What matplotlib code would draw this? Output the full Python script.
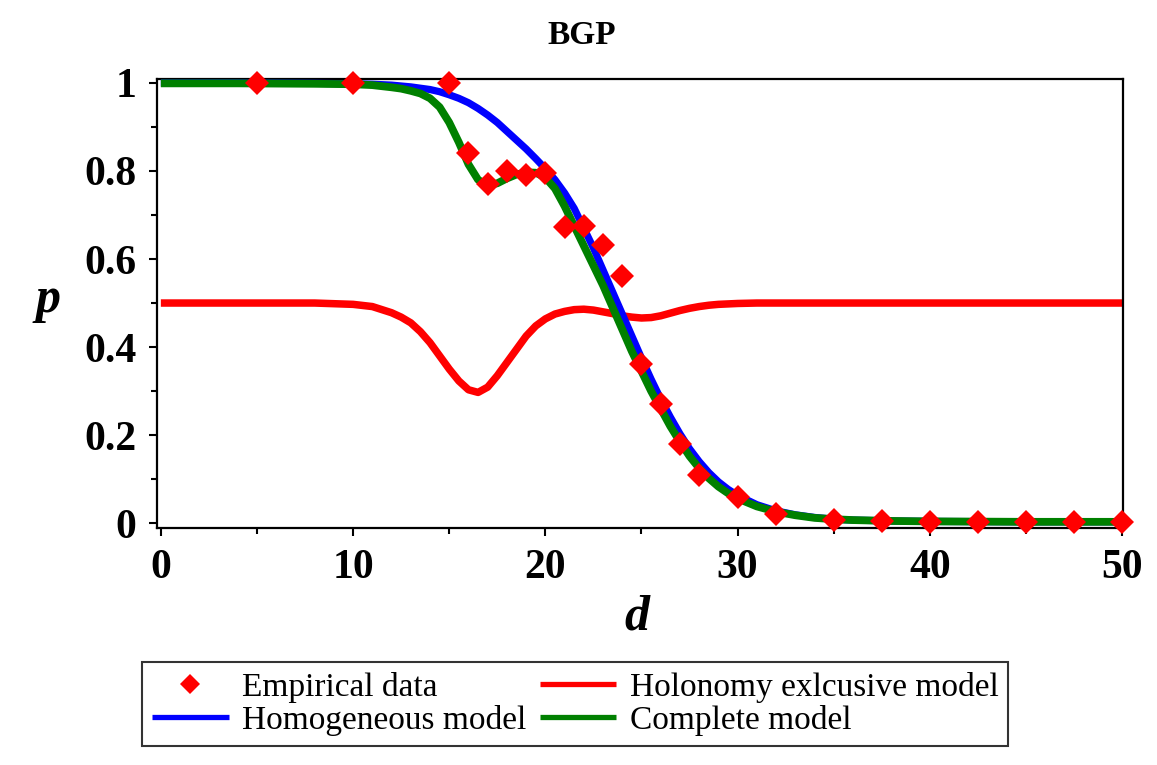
import matplotlib
matplotlib.use("Agg")
import matplotlib.pyplot as plt
from matplotlib.ticker import MultipleLocator, FixedLocator

plt.rcParams['font.family'] = ['Liberation Serif', 'DejaVu Serif']

# empirical points
emp_d = [5, 10, 15, 16, 17, 18, 19, 20, 21, 22, 23, 24, 25, 26, 27, 28,
         30, 32, 35, 37.5, 40, 42.5, 45, 47.5, 50]
emp_p = [1.0, 1.0, 1.0, 0.84, 0.77, 0.80, 0.79, 0.795, 0.673, 0.675, 0.632,
         0.561, 0.361, 0.27, 0.18, 0.11, 0.059, 0.02, 0.007, 0.004, 0.003,
         0.003, 0.003, 0.002, 0.002]

# model curves
model_d = [0, 4, 8, 10, 11,
           12, 12.5, 13, 13.5, 14, 14.5, 15, 15.5, 16, 16.5, 17, 17.5, 18, 18.5,
           19, 19.5, 20, 20.5, 21, 21.5, 22, 22.5, 23, 23.5, 24, 24.5, 25, 25.5,
           26, 26.5, 27, 27.5, 28, 28.5, 29, 29.5, 30,
           31, 32, 33, 34, 35, 36, 38, 40, 45, 50]

homogeneous = [1.0, 1.0, 0.999, 0.998, 0.997,
               0.995, 0.993, 0.991, 0.988, 0.985, 0.98, 0.973, 0.965, 0.955, 0.942,
               0.927, 0.91, 0.89, 0.87, 0.85, 0.828, 0.805, 0.78, 0.75, 0.715,
               0.67, 0.625, 0.575, 0.525, 0.475, 0.425, 0.375, 0.327, 0.282, 0.241,
               0.203, 0.169, 0.14, 0.115, 0.094, 0.077, 0.063,
               0.042, 0.028, 0.019, 0.013, 0.009, 0.007, 0.005, 0.004, 0.003, 0.003]

complete = [0.999, 0.999, 0.998, 0.997, 0.995,
            0.99, 0.987, 0.982, 0.976, 0.965, 0.945, 0.91, 0.865, 0.815, 0.78,
            0.767, 0.772, 0.783, 0.792, 0.797, 0.796, 0.785, 0.76, 0.72, 0.675,
            0.63, 0.585, 0.54, 0.49, 0.44, 0.39, 0.345, 0.3, 0.26, 0.22,
            0.185, 0.152, 0.125, 0.102, 0.083, 0.068, 0.056,
            0.038, 0.026, 0.018, 0.012, 0.009, 0.007, 0.005, 0.004, 0.003, 0.003]

holonomy = [0.5, 0.5, 0.5, 0.497, 0.492,
            0.478, 0.468, 0.455, 0.435, 0.41, 0.38, 0.35, 0.323, 0.303, 0.297,
            0.309, 0.335, 0.365, 0.395, 0.425, 0.448, 0.464, 0.475, 0.481, 0.485,
            0.486, 0.484, 0.48, 0.476, 0.471, 0.468, 0.466, 0.467, 0.471, 0.477,
            0.483, 0.488, 0.492, 0.495, 0.497, 0.498, 0.499,
            0.5, 0.5, 0.5, 0.5, 0.5, 0.5, 0.5, 0.5, 0.5, 0.5]

x_ticks = [0, 10, 20, 30, 40, 50]
y_ticks = [0, 0.2, 0.4, 0.6, 0.8, 1.0]
y_tick_labels = ["0", "0.2", "0.4", "0.6", "0.8", "1"]

fig = plt.figure(figsize=(11.57, 7.65), dpi=100)
ax = fig.add_axes([0.1357, 0.3098, 0.835, 0.587])

l_hol, = ax.plot(model_d, holonomy, color='#ff0000', lw=5.4, zorder=2,
                 solid_capstyle='butt', solid_joinstyle='round',
                 label='Holonomy exlcusive model')
l_hom, = ax.plot(model_d, homogeneous, color='#0000ff', lw=5.2, zorder=3,
                 solid_capstyle='butt', solid_joinstyle='round',
                 label='Homogeneous model')
l_com, = ax.plot(model_d, complete, color='#008000', lw=5.6, zorder=4,
                 solid_capstyle='butt', solid_joinstyle='round',
                 label='Complete model')
l_emp, = ax.plot(emp_d, emp_p, 'D', color='#ff0000', ms=12.5, mew=0, zorder=5,
                 clip_on=False, label='Empirical data')

ax.set_xlim(-0.2, 50.05)
ax.set_ylim(-0.011, 1.009)

ax.xaxis.set_major_locator(FixedLocator(x_ticks))
ax.xaxis.set_minor_locator(MultipleLocator(5))
ax.yaxis.set_major_locator(FixedLocator(y_ticks))
ax.yaxis.set_minor_locator(MultipleLocator(0.1))
ax.set_yticklabels(y_tick_labels)

ax.tick_params(which='both', direction='out', width=1.5, top=False, right=False)
ax.tick_params(which='major', length=6, labelsize=30, pad=9)
ax.tick_params(which='minor', length=4.5)
for lab in ax.get_xticklabels() + ax.get_yticklabels():
    lab.set_fontweight('bold')

for sp in ax.spines.values():
    sp.set_linewidth(1.6)

fig.text(0.503, 1 - 35 / 765, 'BGP', ha='center', va='center',
         fontsize=24, fontweight='bold')
fig.text(48 / 1157, 1 - 300 / 765, 'p', ha='center', va='center',
         fontsize=36, fontweight='bold', style='italic')
fig.text(637 / 1157, 1 - 617 / 765, 'd', ha='center', va='center',
         fontsize=36, fontweight='bold', style='italic')

leg = fig.legend([l_emp, l_hom, l_hol, l_com],
                 ['Empirical data', 'Homogeneous model',
                  'Holonomy exlcusive model', 'Complete model'],
                 loc='upper left', bbox_to_anchor=(142 / 1157, 1 - 662 / 765),
                 ncol=2, fontsize=24, frameon=True, fancybox=False,
                 edgecolor='black', borderaxespad=0, borderpad=0.3,
                 labelspacing=0.05, handlelength=2.3, handletextpad=0.4,
                 columnspacing=0.4, markerscale=0.8)
leg.get_frame().set_linewidth(1.5)
for h in leg.get_lines():
    h.set_linewidth(3.8)

fig.savefig('out.png', dpi=100)
